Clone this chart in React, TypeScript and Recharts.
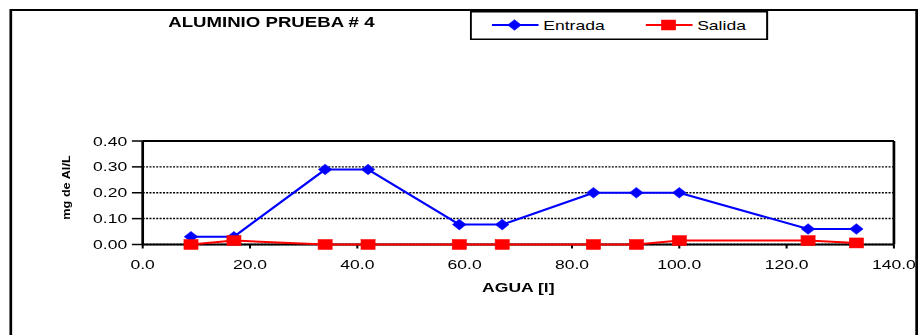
import { LineChart, Line, XAxis, YAxis, CartesianGrid, ReferenceLine, Legend } from 'recharts';

// water volume (l) at each sample, and Al concentration (mg/L)
const agua = [9, 17, 34, 42, 59, 67, 84, 92, 100, 124, 133];
const entrada = [0.03, 0.03, 0.29, 0.29, 0.077, 0.077, 0.2, 0.2, 0.2, 0.06, 0.06];
const salida = [0, 0.015, 0, 0, 0, 0, 0, 0, 0.015, 0.015, 0.006];
const xTicks = [0, 20, 40, 60, 80, 100, 120, 140];
const yTicks = [0, 0.1, 0.2, 0.3, 0.4];

const data = agua.map((x, i) => ({ agua: x, entrada: entrada[i], salida: salida[i] }));

// the original picture is stretched sideways, so draw narrow and scale x
const SX = 1.35;
const W = 920 / SX;
const H = 335;
const FONT = '"Liberation Sans", Arial, sans-serif';
const BLUE = '#0000ff';
const RED = '#ff0000';

const Diamond = ({ cx, cy }: { cx: number; cy: number }) => (
  <polygon
    points={`${cx},${cy - 5.3} ${cx + 5},${cy} ${cx},${cy + 5.3} ${cx - 5},${cy}`}
    fill={BLUE}
    stroke={BLUE}
    strokeWidth={0.5}
  />
);

const Square = ({ cx, cy }: { cx: number; cy: number }) => (
  <rect x={cx - 5.2} y={cy - 5} width={10.4} height={10} fill={RED} stroke={RED} strokeWidth={0.5} />
);

const LegendBox = () => (
  <svg width={221} height={29} style={{ display: 'block', overflow: 'visible' }}>
    <rect x={0.75} y={0.75} width={219.5} height={27.5} fill="#fff" stroke="#000" strokeWidth={1.5} />
    <line x1={16.4} x2={50.9} y1={14} y2={14} stroke={BLUE} strokeWidth={2} />
    <Diamond cx={33.1} cy={14} />
    <text x={54.4} y={18.6} fontSize={13} fontFamily={FONT} fill="#000">Entrada</text>
    <line x1={130.4} x2={165} y1={14} y2={14} stroke={RED} strokeWidth={2} />
    <Square cx={147.2} cy={14} />
    <text x={168.4} y={18.6} fontSize={13} fontFamily={FONT} fill="#000">Salida</text>
  </svg>
);

export default function App() {
  return (
    <div style={{ position: 'absolute', left: 0, top: 0, width: 920, height: H, overflow: 'hidden', background: '#fff' }}>
      <div style={{ position: 'relative', width: W, height: H, transform: `scale(${SX}, 1)`, transformOrigin: '0 0', fontFamily: FONT }}>
        {/* outer frame */}
        <div
          style={{
            position: 'absolute',
            left: 7,
            top: 9,
            width: 673,
            height: 400,
            border: '2px solid #000',
            boxSizing: 'border-box',
          }}
        />
        <div
          style={{
            position: 'absolute',
            left: 101,
            top: 16.4,
            width: 200,
            textAlign: 'center',
            fontSize: 13.8,
            lineHeight: '14px',
            fontWeight: 'bold',
            color: '#000',
            whiteSpace: 'nowrap',
          }}
        >
          ALUMINIO PRUEBA # 4
        </div>
        <LineChart
          width={W}
          height={H}
          data={data}
          margin={{ top: 141, right: 19.3, bottom: 60.5, left: 45.7 }}
          style={{ position: 'absolute', left: 0, top: 0 }}
        >
          <CartesianGrid
            horizontal
            vertical={false}
            stroke="#000"
            strokeWidth={1.5}
            strokeDasharray="1.5 1"
          />
          <XAxis
            dataKey="agua"
            type="number"
            domain={[0, 140]}
            ticks={xTicks}
            height={30}
            tickFormatter={(v: number) => v.toFixed(1)}
            axisLine={{ stroke: '#000', strokeWidth: 2 }}
            tickLine={{ stroke: '#000', strokeWidth: 1.5 }}
            tickSize={4}
            tickMargin={11}
            tick={{ fill: '#000', fontSize: 13, fontFamily: FONT }}
            label={(props: any) => {
              const vb = props.viewBox;
              return (
                <text
                  x={vb.x + vb.width / 2}
                  y={291.7}
                  textAnchor="middle"
                  fontSize={13}
                  fontWeight="bold"
                  fontFamily={FONT}
                  fill="#000"
                >
                  AGUA [l]
                </text>
              );
            }}
          />
          <YAxis
            type="number"
            domain={[0, 0.4]}
            ticks={yTicks}
            width={60}
            tickFormatter={(v: number) => v.toFixed(2)}
            axisLine={{ stroke: '#000', strokeWidth: 2 }}
            tickLine={{ stroke: '#000', strokeWidth: 1.5 }}
            tickSize={8}
            tickMargin={3.5}
            tick={{ fill: '#000', fontSize: 13, fontFamily: FONT }}
            label={() => {
              // rotated title: undo the sideways stretch, then stretch along its baseline
              const x = 49.3;
              const y = 187.5;
              return (
                <text
                  transform={`translate(${x} ${y}) scale(${1 / SX} 1) rotate(-90) scale(1.27 1)`}
                  textAnchor="middle"
                  dominantBaseline="central"
                  fontSize={10}
                  fontWeight="bold"
                  fontFamily={FONT}
                  fill="#000"
                >
                  mg de Al/L
                </text>
              );
            }}
          />
          <ReferenceLine y={0.4} stroke="#000" strokeWidth={2} />
          <ReferenceLine x={140} stroke="#000" strokeWidth={2} />
          <Legend
            layout="horizontal"
            verticalAlign="middle"
            align="center"
            width={221}
            height={29}
            wrapperStyle={{ left: 347.6, top: 11, width: 221, height: 29 }}
            content={() => <LegendBox />}
          />
          <Line
            dataKey="entrada"
            name="Entrada"
            type="linear"
            stroke={BLUE}
            strokeWidth={2}
            dot={(p: any) => <Diamond key={`e${p.index}`} cx={p.cx} cy={p.cy} />}
            activeDot={false}
            isAnimationActive={false}
            zIndex={600}
          />
          <Line
            dataKey="salida"
            name="Salida"
            type="linear"
            stroke={RED}
            strokeWidth={2}
            dot={(p: any) => <Square key={`s${p.index}`} cx={p.cx} cy={p.cy} />}
            activeDot={false}
            isAnimationActive={false}
            zIndex={601}
          />
        </LineChart>
      </div>
    </div>
  );
}
